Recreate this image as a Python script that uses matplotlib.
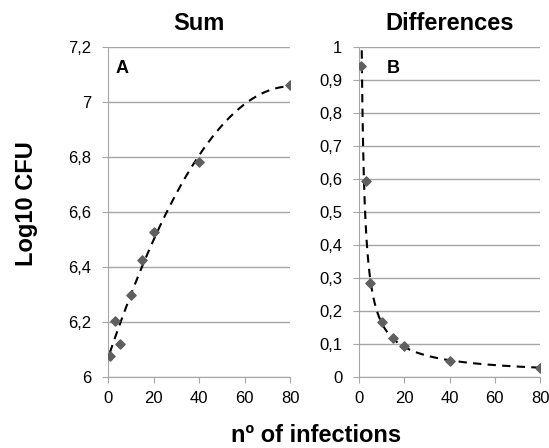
import numpy as np
import matplotlib.pyplot as plt

plt.rcParams['font.family'] = ['Liberation Sans', 'DejaVu Sans']

# Data
infections = [1, 3, 5, 10, 15, 20, 40, 80]
sum_cfu = [6.077, 6.204, 6.119, 6.298, 6.425, 6.526, 6.782, 7.061]
diff_cfu = [0.943, 0.594, 0.285, 0.166, 0.119, 0.093, 0.048, 0.027]

x_ticks = [0, 20, 40, 60, 80]
sum_ticks = [6, 6.2, 6.4, 6.6, 6.8, 7, 7.2]
diff_ticks = [0, 0.1, 0.2, 0.3, 0.4, 0.5, 0.6, 0.7, 0.8, 0.9, 1]

grey = '#a6a6a6'
marker_col = '#5f5f5f'


def comma(v):
    s = ('%.1f' % v).rstrip('0').rstrip('.')
    return s.replace('.', ',')


def style(ax):
    for side in ['top', 'right']:
        ax.spines[side].set_visible(False)
    for side in ['left', 'bottom']:
        ax.spines[side].set_color(grey)
    ax.yaxis.grid(True, color=grey, linewidth=1)
    ax.set_axisbelow(True)
    ax.tick_params(axis='x', colors=grey, labelcolor='black', labelsize=12, length=4, pad=6)
    ax.tick_params(axis='y', colors=grey, labelcolor='black', labelsize=12, length=4, pad=8)
    ax.set_xlim(0, 80)
    ax.set_xticks(x_ticks)


fig = plt.figure(figsize=(5.49, 4.48), dpi=100)
ax1 = fig.add_axes([0.197, 0.1585, 0.3315, 0.7366])
ax2 = fig.add_axes([0.654, 0.1585, 0.3297, 0.7366])

x = np.array(infections, dtype=float)

# A: sum with polynomial trend
style(ax1)
coef = np.polyfit(x, sum_cfu, 2)
xs = np.linspace(0.7, 80, 200)
ax1.plot(xs, np.polyval(coef, xs), color='black', linewidth=1.5, dashes=(4, 3))
ax1.scatter(x, sum_cfu, marker='D', s=22, color=marker_col, zorder=3)
ax1.set_ylim(6, 7.2)
ax1.set_yticks(sum_ticks)
ax1.set_yticklabels([comma(v) for v in sum_ticks])
ax1.set_title('Sum', fontsize=17, fontweight='bold', pad=12)
ax1.text(0.038, 0.961, 'A', transform=ax1.transAxes, fontsize=13, fontweight='bold', va='top')

# B: differences with power trend
style(ax2)
b, log_a = np.polyfit(np.log(x), np.log(diff_cfu), 1)
a = np.exp(log_a)
x_start = (0.99 / a) ** (1 / b)
xs2 = np.geomspace(x_start, 80, 400)
ax2.plot(xs2, a * xs2 ** b, color='black', linewidth=1.5, dashes=(4, 3))
ax2.scatter(x, diff_cfu, marker='D', s=22, color=marker_col, zorder=3)
ax2.set_ylim(0, 1)
ax2.set_yticks(diff_ticks)
ax2.set_yticklabels([comma(v) for v in diff_ticks])
ax2.set_title('Differences', fontsize=17, fontweight='bold', pad=12)
ax2.text(0.155, 0.961, 'B', transform=ax2.transAxes, fontsize=13, fontweight='bold', va='top')

fig.text(0.048, 0.546, 'Log10 CFU', rotation=90, ha='center', va='center',
         fontsize=17, fontweight='bold')
fig.text(0.576, 0.003, 'nº of infections', ha='center', va='bottom', fontsize=17, fontweight='bold')

fig.savefig('out.png', dpi=100)
